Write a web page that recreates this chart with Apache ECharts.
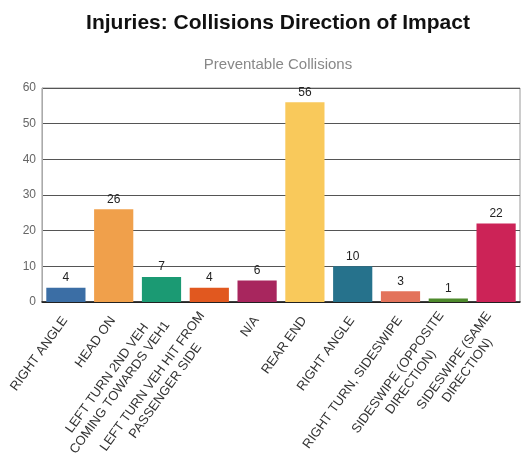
<!DOCTYPE html>
<html><head><meta charset="utf-8">
<script src="https://cdn.jsdelivr.net/npm/echarts@6/dist/echarts.min.js"></script>
<style>html,body{margin:0;padding:0;background:#fff}#c{width:524px;height:473px}</style>
</head><body><div id="c"></div>
<script>
const categories = ["RIGHT ANGLE","HEAD ON","LEFT TURN 2ND VEH\nCOMING TOWARDS VEH1","LEFT TURN VEH HIT FROM\nPASSENGER SIDE","N/A","REAR END","RIGHT ANGLE","RIGHT TURN, SIDESWIPE","SIDESWIPE (OPPOSITE\nDIRECTION)","SIDESWIPE (SAME\nDIRECTION)"];
const values = [4,26,7,4,6,56,10,3,1,22];
const colors = ["#3b6ea5","#f0a04b","#1b9a73","#e1581f","#a8265e","#f9c95b","#26728c","#e3735b","#4e8a2c","#cc2357"];
const yTicks = [0,10,20,30,40,50,60];
const fontN = '"Liberation Sans Narrow","Liberation Sans",Arial,sans-serif';
const labelSize = 13;
// measure label lines so multi-line labels can be centred line by line
const ctx = document.createElement('canvas').getContext('2d');
ctx.font = labelSize + 'px "Liberation Sans", Arial, sans-serif';
const rich = {};
categories.forEach((c, i) => {
  const w = Math.ceil(Math.max(...c.split('\n').map(s => ctx.measureText(s).width))) + 2;
  rich['c' + i] = {width: w, align: 'center', fontFamily: fontN, fontSize: labelSize, color: '#333', lineHeight: 16};
});
const chart = echarts.init(document.getElementById('c'));
chart.setOption({
  animation:false,
  title:[{text:'Injuries: Collisions Direction of Impact',left:273,textAlign:'center',top:8,textStyle:{fontFamily:fontN,fontWeight:'bold',fontSize:21,color:'#111'}},
         {text:'Preventable Collisions',left:273,textAlign:'center',top:52,textStyle:{fontFamily:fontN,fontWeight:'normal',fontSize:15,color:'#888'}}],
  grid:{left:42,right:4,top:88,bottom:171,show:true,borderColor:'#999',borderWidth:1},
  xAxis:{type:'category',data:categories,axisTick:{show:false},
    axisLine:{lineStyle:{color:'#111',width:1.5}},
    axisLabel:{rotate:54,interval:0,fontFamily:fontN,fontSize:labelSize,color:'#333',lineHeight:16,margin:15,align:'right',
      rich:rich,
      formatter:(v,i)=>v.split('\n').map(s=>'{c'+i+'|'+s+'}').join('\n')}},
  yAxis:{type:'value',min:0,max:60,interval:10,
    axisLine:{show:true,lineStyle:{color:'#aaa'}},axisTick:{show:false},
    axisLabel:{fontFamily:fontN,fontSize:12,color:'#666',margin:6,formatter:v=>yTicks.includes(v)?String(v):''},
    splitLine:{lineStyle:{color:'#555',width:1}}},
  series:[{type:'bar',data:values.map((v,i)=>({value:v,itemStyle:{color:colors[i]}})),
    barCategoryGap:'18%',
    label:{show:true,position:'top',fontFamily:fontN,fontSize:12,color:'#222',distance:4}}]
});
</script></body></html>
